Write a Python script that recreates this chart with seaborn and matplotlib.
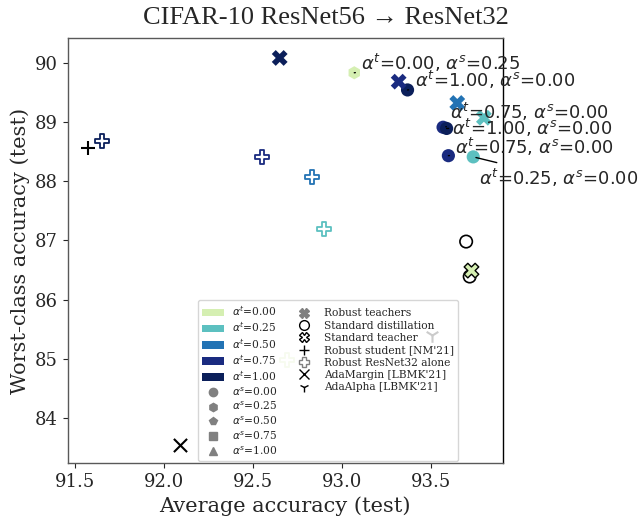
import pandas as pd
import matplotlib
matplotlib.use('Agg')
import matplotlib.pyplot as plt
import seaborn as sns
from matplotlib.lines import Line2D
from matplotlib.patches import Patch

# alpha^t levels and their colours
at_levels = ['0.00', '0.25', '0.50', '0.75', '1.00']
at_colors = ['#d5efb2', '#5cc0c0', '#2373b4', '#1a2b80', '#0b1f5a']
as_levels = ['0.00', '0.25', '0.50', '0.75', '1.00']
as_markers = ['o', 'h', 'p', 's', '^']

# students distilled from robust teachers
stu_x = [93.07, 93.37, 93.57, 93.59, 93.60, 93.74]
stu_y = [89.83, 89.54, 88.91, 88.89, 88.43, 88.41]
stu_at = ['0.00', '1.00', '0.75', '1.00', '0.75', '0.25']
stu_as = ['0.25', '0.00', '0.00', '0.00', '0.00', '0.00']
# label text positions (data coords)
lab_x = [93.11, 93.41, 93.61, 93.62, 93.64, 93.77]
lab_y = [90.00, 89.71, 89.17, 88.90, 88.58, 88.06]

# robust teachers
rt_x = [92.65, 93.32, 93.65, 93.80, 93.73]
rt_y = [90.08, 89.68, 89.32, 89.07, 86.49]
rt_at = ['1.00', '0.75', '0.50', '0.25', '0.00']

# robust ResNet32 alone
ra_x = [91.65, 92.55, 92.83, 92.90, 92.69]
ra_y = [88.67, 88.41, 88.07, 87.20, 84.98]
ra_at = ['1.00', '0.75', '0.50', '0.25', '0.00']

# baselines
sd_x, sd_y = [93.70, 93.72], [86.98, 86.39]      # standard distillation
st_x, st_y = [93.73], [86.49]                     # standard teacher
rs_x, rs_y = [91.57], [88.56]                     # robust student [NM'21]
am_x, am_y = [92.09], [83.55]                     # AdaMargin
aa_x, aa_y = [93.51], [85.41]                     # AdaAlpha

sns.set_style('white')
plt.rcParams['font.family'] = ['DejaVu Serif']

pal = dict(zip(at_levels, at_colors))
mk = dict(zip(as_levels, as_markers))

fig = plt.figure(figsize=(6.4, 5.18), dpi=100)
ax = fig.add_axes([0.106, 0.106, 0.6795, 0.821])

stu = pd.DataFrame({'x': stu_x, 'y': stu_y, 'at': stu_at, 'as': stu_as})
sns.scatterplot(data=stu, x='x', y='y', hue='at', style='as', palette=pal,
                markers=mk, s=90, linewidth=0, legend=False, ax=ax, zorder=3)

rt = pd.DataFrame({'x': rt_x, 'y': rt_y, 'at': rt_at})
sns.scatterplot(data=rt, x='x', y='y', hue='at', palette=pal, marker='X',
                s=130, linewidth=0, legend=False, ax=ax, zorder=3)

ra = pd.DataFrame({'x': ra_x, 'y': ra_y, 'at': ra_at})
for _, r in ra.iterrows():
    ax.scatter(r['x'], r['y'], marker='P', s=110, facecolor='white',
               edgecolor=pal[r['at']], linewidth=1.3, zorder=3)

ax.scatter(sd_x, sd_y, marker='o', s=80, facecolor='none', edgecolor='black',
           linewidth=1.2, zorder=2)
ax.scatter(st_x, st_y, marker='X', s=110, facecolor='none', edgecolor='black',
           linewidth=1.0, zorder=4)
ax.scatter(rs_x, rs_y, marker='+', s=110, color='black', linewidth=1.5, zorder=3)
ax.scatter(am_x, am_y, marker='x', s=90, color='black', linewidth=1.5, zorder=3)
ax.scatter(aa_x, aa_y, marker='1', s=110, color='black', linewidth=1.5, zorder=3)

for i in range(len(stu_x)):
    ax.annotate(r'$\alpha^t$=' + stu_at[i] + r', $\alpha^s$=' + stu_as[i],
                xy=(stu_x[i], stu_y[i]), xytext=(lab_x[i], lab_y[i]),
                va='center', ha='left', fontsize=13, family='DejaVu Sans',
                arrowprops=dict(arrowstyle='-', color='black', lw=1),
                annotation_clip=False, zorder=5)

ax.set_xlim(91.457, 93.906)
ax.set_ylim(83.24, 90.42)
ax.set_xticks([91.5, 92.0, 92.5, 93.0, 93.5])
ax.set_yticks([84, 85, 86, 87, 88, 89, 90])
ax.tick_params(axis='both', labelsize=13, length=3.5, width=0.8,
               direction='out', bottom=True, left=True)
for sp in ax.spines.values():
    sp.set_color('0.35')
    sp.set_linewidth(1.0)
ax.spines['right'].set_color('black')

ax.set_xlabel('Average accuracy (test)', fontsize=15)
ax.set_ylabel('Worst-class accuracy (test)', fontsize=15)
fig.text(0.51, 1 - 18 / 518, 'CIFAR-10 ResNet56 \u2192 ResNet32', fontsize=19,
         ha='center', va='center', family=['Liberation Serif', 'DejaVu Serif'])

handles, labels = [], []
for lev, c in zip(at_levels, at_colors):
    handles.append(Patch(facecolor=c, edgecolor='none'))
    labels.append(r'$\alpha^t$=' + lev)
for lev, m in zip(as_levels, as_markers):
    handles.append(Line2D([], [], marker=m, color='gray', linestyle='none', markersize=6))
    labels.append(r'$\alpha^s$=' + lev)
method_handles = [
    Line2D([], [], marker='X', color='gray', linestyle='none', markersize=7),
    Line2D([], [], marker='o', markerfacecolor='none', markeredgecolor='black', linestyle='none', markersize=7),
    Line2D([], [], marker='X', markerfacecolor='none', markeredgecolor='black', linestyle='none', markersize=7),
    Line2D([], [], marker='+', color='black', linestyle='none', markersize=7),
    Line2D([], [], marker='P', markerfacecolor='none', markeredgecolor='gray', linestyle='none', markersize=7),
    Line2D([], [], marker='x', color='black', linestyle='none', markersize=7),
    Line2D([], [], marker='1', color='black', linestyle='none', markersize=7),
]
method_labels = ['Robust teachers', 'Standard distillation', 'Standard teacher',
                 "Robust student [NM'21]", 'Robust ResNet32 alone',
                 "AdaMargin [LBMK'21]", "AdaAlpha [LBMK'21]"]
handles += method_handles
labels += method_labels
for _ in range(3):
    handles.append(Line2D([], [], linestyle='none'))
    labels.append('')

ax.legend(handles, labels, ncol=2, loc='lower left', bbox_to_anchor=(0.299, 0.005),
          borderaxespad=0, fontsize=7.7, handlelength=2.0, labelspacing=0.22,
          columnspacing=1.5, framealpha=0.8)

fig.savefig('out.png', dpi=100)
